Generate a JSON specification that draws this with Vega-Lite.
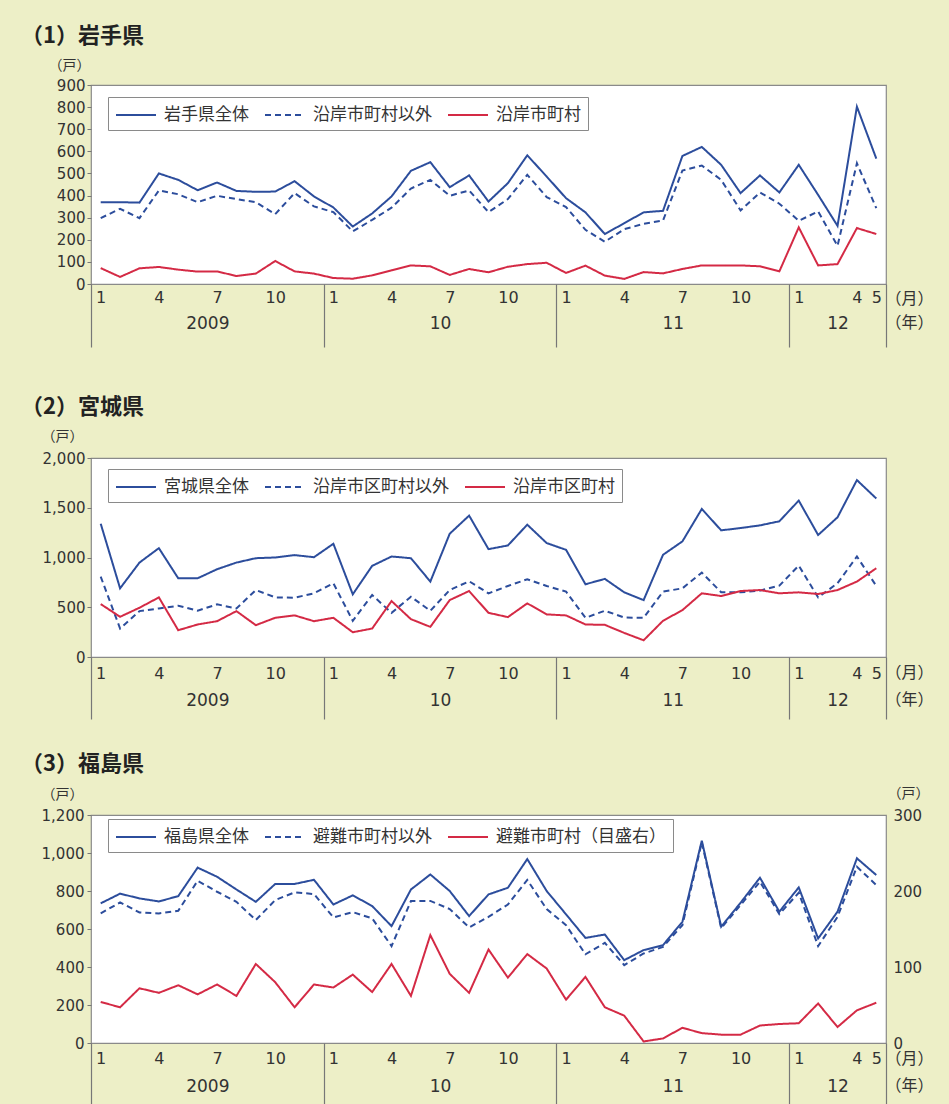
{
  "$schema": "https://vega.github.io/schema/vega-lite/v6.json",
  "background": "#EDEFC7",
  "padding": {"left": 20, "top": 24, "right": 17, "bottom": 0},
  "spacing": 31,
  "resolve": {
    "scale": {"x": "independent", "y": "independent", "color": "independent", "strokeDash": "independent"},
    "axis": {"x": "independent", "y": "independent"},
    "legend": {"color": "independent", "strokeDash": "independent"}
  },
  "config": {
    "view": {"fill": "white", "stroke": "#8a8a8a", "strokeWidth": 1.2},
    "axis": {"labelFont": "DejaVu Sans", "labelColor": "#333333", "titleFont": "Noto Sans CJK JP", "titleColor": "#333333", "titleFontWeight": "normal", "grid": false, "domain": false, "tickColor": "#777777"},
    "title": {"font": "Noto Sans CJK JP", "fontWeight": "bold", "color": "#222222", "fontSize": 22, "anchor": "start", "frame": "group"},
    "legend": {"title": null, "orient": "none", "direction": "horizontal", "fillColor": "white", "strokeColor": "#8a8a8a", "padding": 7, "symbolType": "M-1,0L3,0", "symbolSize": 400, "symbolStrokeWidth": 2, "labelFontSize": 17, "labelFont": "Noto Sans CJK JP", "labelColor": "#333333", "labelOffset": 27, "columnPadding": 12, "labelLimit": 0}
  },
  "datasets": {
    "iwate": [
      {"i":0,"total":370,"excl":298,"area":72},{"i":1,"total":370,"excl":340,"area":32},{"i":2,"total":368,"excl":298,"area":71},{"i":3,"total":500,"excl":423,"area":77},{"i":4,"total":471,"excl":406,"area":65},{"i":5,"total":424,"excl":370,"area":56},{"i":6,"total":459,"excl":399,"area":57},{"i":7,"total":421,"excl":384,"area":36},{"i":8,"total":417,"excl":370,"area":47},{"i":9,"total":418,"excl":316,"area":104},{"i":10,"total":465,"excl":411,"area":57},{"i":11,"total":396,"excl":351,"area":47},
      {"i":12,"total":346,"excl":325,"area":27},{"i":13,"total":260,"excl":238,"area":24},{"i":14,"total":319,"excl":290,"area":39},{"i":15,"total":396,"excl":345,"area":62},{"i":16,"total":512,"excl":432,"area":84},{"i":17,"total":551,"excl":471,"area":80},{"i":18,"total":438,"excl":399,"area":41},{"i":19,"total":491,"excl":423,"area":68},{"i":20,"total":373,"excl":325,"area":53},{"i":21,"total":456,"excl":384,"area":78},{"i":22,"total":582,"excl":494,"area":90},{"i":23,"total":486,"excl":393,"area":96},
      {"i":24,"total":388,"excl":348,"area":50},{"i":25,"total":324,"excl":245,"area":83},{"i":26,"total":226,"excl":191,"area":38},{"i":27,"total":275,"excl":248,"area":23},{"i":28,"total":324,"excl":272,"area":54},{"i":29,"total":331,"excl":287,"area":48},{"i":30,"total":579,"excl":513,"area":68},{"i":31,"total":620,"excl":536,"area":84},{"i":32,"total":539,"excl":471,"area":84},{"i":33,"total":411,"excl":333,"area":84},{"i":34,"total":491,"excl":414,"area":80},{"i":35,"total":414,"excl":363,"area":57},
      {"i":36,"total":539,"excl":286,"area":256},{"i":37,"total":403,"excl":328,"area":84},{"i":38,"total":263,"excl":173,"area":90},{"i":39,"total":802,"excl":546,"area":253},{"i":40,"total":567,"excl":343,"area":226}
    ],
    "miyagi": [
      {"i":0,"total":1340,"excl":808,"area":532},{"i":1,"total":690,"excl":286,"area":404},{"i":2,"total":949,"excl":461,"area":495},{"i":3,"total":1094,"excl":488,"area":599},{"i":4,"total":791,"excl":515,"area":269},{"i":5,"total":791,"excl":465,"area":327},{"i":6,"total":882,"excl":529,"area":360},{"i":7,"total":949,"excl":488,"area":461},{"i":8,"total":993,"excl":673,"area":320},{"i":9,"total":1000,"excl":599,"area":394},{"i":10,"total":1024,"excl":596,"area":418},{"i":11,"total":1003,"excl":640,"area":360},
      {"i":12,"total":1138,"excl":741,"area":394},{"i":13,"total":630,"excl":364,"area":249},{"i":14,"total":916,"excl":623,"area":286},{"i":15,"total":1010,"excl":444,"area":562},{"i":16,"total":993,"excl":606,"area":380},{"i":17,"total":758,"excl":465,"area":303},{"i":18,"total":1239,"excl":673,"area":572},{"i":19,"total":1421,"excl":761,"area":663},{"i":20,"total":1084,"excl":640,"area":444},{"i":21,"total":1121,"excl":714,"area":401},{"i":22,"total":1330,"excl":781,"area":539},{"i":23,"total":1145,"excl":714,"area":428},
      {"i":24,"total":1077,"excl":657,"area":418},{"i":25,"total":731,"excl":394,"area":327},{"i":26,"total":785,"excl":465,"area":323},{"i":27,"total":650,"excl":397,"area":242},{"i":28,"total":572,"excl":394,"area":168},{"i":29,"total":1027,"excl":657,"area":364},{"i":30,"total":1162,"excl":690,"area":471},{"i":31,"total":1488,"excl":848,"area":640},{"i":32,"total":1273,"excl":650,"area":613},{"i":33,"total":1296,"excl":650,"area":663},{"i":34,"total":1323,"excl":667,"area":673},{"i":35,"total":1364,"excl":717,"area":640},
      {"i":36,"total":1572,"excl":919,"area":650},{"i":37,"total":1226,"excl":599,"area":633},{"i":38,"total":1404,"excl":741,"area":673},{"i":39,"total":1778,"excl":1010,"area":758},{"i":40,"total":1593,"excl":714,"area":892}
    ],
    "fukushima": [
      {"i":0,"total":735,"excl":682,"area":54},{"i":1,"total":786,"excl":740,"area":47},{"i":2,"total":761,"excl":687,"area":72},{"i":3,"total":745,"excl":682,"area":66},{"i":4,"total":773,"excl":696,"area":76},{"i":5,"total":923,"excl":854,"area":64},{"i":6,"total":875,"excl":796,"area":77},{"i":7,"total":808,"excl":743,"area":62},{"i":8,"total":743,"excl":647,"area":104},{"i":9,"total":837,"excl":752,"area":80},{"i":10,"total":837,"excl":793,"area":47},{"i":11,"total":859,"excl":784,"area":77},
      {"i":12,"total":729,"excl":661,"area":73},{"i":13,"total":777,"excl":689,"area":90},{"i":14,"total":721,"excl":656,"area":67},{"i":15,"total":615,"excl":510,"area":104},{"i":16,"total":808,"excl":747,"area":62},{"i":17,"total":887,"excl":748,"area":142},{"i":18,"total":800,"excl":705,"area":91},{"i":19,"total":668,"excl":608,"area":66},{"i":20,"total":782,"excl":664,"area":123},{"i":21,"total":817,"excl":729,"area":86},{"i":22,"total":968,"excl":858,"area":117},{"i":23,"total":800,"excl":705,"area":98},
      {"i":24,"total":677,"excl":620,"area":57},{"i":25,"total":553,"excl":467,"area":87},{"i":26,"total":571,"excl":527,"area":47},{"i":27,"total":436,"excl":410,"area":36},{"i":28,"total":489,"excl":471,"area":2},{"i":29,"total":515,"excl":506,"area":6},{"i":30,"total":638,"excl":620,"area":20},{"i":31,"total":1065,"excl":1056,"area":13},{"i":32,"total":612,"excl":605,"area":11},{"i":33,"total":738,"excl":726,"area":11},{"i":34,"total":870,"excl":849,"area":23},{"i":35,"total":691,"excl":678,"area":25},
      {"i":36,"total":819,"excl":791,"area":26},{"i":37,"total":550,"excl":510,"area":52},{"i":38,"total":691,"excl":664,"area":21},{"i":39,"total":972,"excl":928,"area":43},{"i":40,"total":884,"excl":831,"area":53}
    ]
  },
  "vconcat": [
    {
      "title": {"text": "（1）岩手県", "dx": -70, "offset": 10},
      "width": 795, "height": 199,
      "data": {"name": "iwate"},
      "resolve": {"axis": {"x": "independent"}, "scale": {"y": "independent"}},
      "layer": [
        {"mark": {"type": "line", "strokeWidth": 2},
         "encoding": {
           "x": {"field": "i", "type": "quantitative", "scale": {"domain": [-0.5, 40.5], "nice": false, "zero": false},
                 "axis": {"orient": "bottom", "values": [0,3,6,9,12,15,18,21,24,27,30,33,36,39,40], "labelExpr": "(datum.value % 12) + 1", "ticks": false, "labelPadding": 5, "labelFontSize": 16, "labelFlush": false, "labelOverlap": false, "title": "（月）", "titleFontSize": 16, "titleAngle": 0, "titleX": 818, "titleY": 14, "titleAlign": "center", "titleBaseline": "middle"}},
           "y": {"field": "total", "type": "quantitative", "scale": {"domain": [0, 900], "nice": false},
                 "axis": {"orient": "left", "values": [0,100,200,300,400,500,600,700,800,900], "tickSize": 4, "labelPadding": 2, "labelFontSize": 15, "title": "（戸）", "titleFontSize": 14, "titleAngle": 0, "titleX": -22, "titleY": -20, "titleAlign": "center", "titleBaseline": "middle"}},
           "color": {"datum": "岩手県全体", "type": "nominal", "scale": {"domain": ["岩手県全体", "沿岸市町村以外", "沿岸市町村"], "range": ["#2c4d9c", "#2c4d9c", "#d42a45"]}, "legend": {"legendX": 17, "legendY": 12}},
           "strokeDash": {"datum": "岩手県全体", "type": "nominal", "scale": {"domain": ["岩手県全体", "沿岸市町村以外", "沿岸市町村"], "range": [[1, 0], [6, 4], [1, 0]]}, "legend": {"legendX": 17, "legendY": 12}}
         }},
        {"mark": {"type": "line", "strokeWidth": 2},
         "encoding": {
           "x": {"field": "i", "type": "quantitative", "scale": {"domain": [-0.5, 40.5], "nice": false, "zero": false},
                 "axis": {"orient": "bottom", "values": [5.5, 17.5, 29.5, 38], "labelExpr": "datum.value < 12 ? '2009' : datum.value < 24 ? '10' : datum.value < 36 ? '11' : '12'", "ticks": false, "labelPadding": 31, "labelFontSize": 17, "labelFlush": false, "labelOverlap": false, "title": "（年）", "titleFontSize": 16, "titleAngle": 0, "titleX": 818, "titleY": 38, "titleAlign": "center", "titleBaseline": "middle"}},
           "y": {"field": "excl", "type": "quantitative", "scale": {"domain": [0, 900], "nice": false}, "axis": null},
           "color": {"datum": "沿岸市町村以外", "type": "nominal", "legend": {"legendX": 17, "legendY": 12}},
           "strokeDash": {"datum": "沿岸市町村以外", "type": "nominal", "legend": {"legendX": 17, "legendY": 12}}
         }},
        {"mark": {"type": "line", "strokeWidth": 2},
         "encoding": {
           "x": {"field": "i", "type": "quantitative", "scale": {"domain": [-0.5, 40.5], "nice": false, "zero": false},
                 "axis": {"orient": "bottom", "values": [-0.5, 11.5, 23.5, 35.5, 40.5], "labels": false, "ticks": true, "tickSize": 63, "tickWidth": 1.2, "tickColor": "#777777", "title": null}},
           "y": {"field": "area", "type": "quantitative", "scale": {"domain": [0, 900], "nice": false}, "axis": null},
           "color": {"datum": "沿岸市町村", "type": "nominal", "legend": {"legendX": 17, "legendY": 12}},
           "strokeDash": {"datum": "沿岸市町村", "type": "nominal", "legend": {"legendX": 17, "legendY": 12}}
         }}
      ]
    },
    {
      "title": {"text": ["", "（2）宮城県"], "dx": -70, "offset": 10, "lineHeight": 15},
      "width": 795, "height": 199,
      "data": {"name": "miyagi"},
      "resolve": {"axis": {"x": "independent"}, "scale": {"y": "independent"}},
      "layer": [
        {"mark": {"type": "line", "strokeWidth": 2},
         "encoding": {
           "x": {"field": "i", "type": "quantitative", "scale": {"domain": [-0.5, 40.5], "nice": false, "zero": false},
                 "axis": {"orient": "bottom", "values": [0,3,6,9,12,15,18,21,24,27,30,33,36,39,40], "labelExpr": "(datum.value % 12) + 1", "ticks": false, "labelPadding": 8, "labelFontSize": 16, "labelFlush": false, "labelOverlap": false, "title": "（月）", "titleFontSize": 16, "titleAngle": 0, "titleX": 818, "titleY": 15, "titleAlign": "center", "titleBaseline": "middle"}},
           "y": {"field": "total", "type": "quantitative", "scale": {"domain": [0, 2000], "nice": false},
                 "axis": {"orient": "left", "values": [0,500,1000,1500,2000], "labelExpr": "format(datum.value, ',')", "tickSize": 4, "labelPadding": 2, "labelFontSize": 15, "title": "（戸）", "titleFontSize": 14, "titleAngle": 0, "titleX": -29, "titleY": -22, "titleAlign": "center", "titleBaseline": "middle"}},
           "color": {"datum": "宮城県全体", "type": "nominal", "scale": {"domain": ["宮城県全体", "沿岸市区町村以外", "沿岸市区町村"], "range": ["#2c4d9c", "#2c4d9c", "#d42a45"]}, "legend": {"legendX": 17, "legendY": 11}},
           "strokeDash": {"datum": "宮城県全体", "type": "nominal", "scale": {"domain": ["宮城県全体", "沿岸市区町村以外", "沿岸市区町村"], "range": [[1, 0], [6, 4], [1, 0]]}, "legend": {"legendX": 17, "legendY": 11}}
         }},
        {"mark": {"type": "line", "strokeWidth": 2},
         "encoding": {
           "x": {"field": "i", "type": "quantitative", "scale": {"domain": [-0.5, 40.5], "nice": false, "zero": false},
                 "axis": {"orient": "bottom", "values": [5.5, 17.5, 29.5, 38], "labelExpr": "datum.value < 12 ? '2009' : datum.value < 24 ? '10' : datum.value < 36 ? '11' : '12'", "ticks": false, "labelPadding": 35, "labelFontSize": 17, "labelFlush": false, "labelOverlap": false, "title": "（年）", "titleFontSize": 16, "titleAngle": 0, "titleX": 818, "titleY": 42, "titleAlign": "center", "titleBaseline": "middle"}},
           "y": {"field": "excl", "type": "quantitative", "scale": {"domain": [0, 2000], "nice": false}, "axis": null},
           "color": {"datum": "沿岸市区町村以外", "type": "nominal", "legend": {"legendX": 17, "legendY": 11}},
           "strokeDash": {"datum": "沿岸市区町村以外", "type": "nominal", "legend": {"legendX": 17, "legendY": 11}}
         }},
        {"mark": {"type": "line", "strokeWidth": 2},
         "encoding": {
           "x": {"field": "i", "type": "quantitative", "scale": {"domain": [-0.5, 40.5], "nice": false, "zero": false},
                 "axis": {"orient": "bottom", "values": [-0.5, 11.5, 23.5, 35.5, 40.5], "labels": false, "ticks": true, "tickSize": 62, "tickWidth": 1.2, "tickColor": "#777777", "title": null}},
           "y": {"field": "area", "type": "quantitative", "scale": {"domain": [0, 2000], "nice": false}, "axis": null},
           "color": {"datum": "沿岸市区町村", "type": "nominal", "legend": {"legendX": 17, "legendY": 11}},
           "strokeDash": {"datum": "沿岸市区町村", "type": "nominal", "legend": {"legendX": 17, "legendY": 11}}
         }}
      ]
    },
    {
      "title": {"text": "（3）福島県", "dx": -70, "offset": 10},
      "width": 795, "height": 228,
      "data": {"name": "fukushima"},
      "resolve": {"axis": {"x": "independent"}, "scale": {"y": "independent"}},
      "layer": [
        {"mark": {"type": "line", "strokeWidth": 2},
         "encoding": {
           "x": {"field": "i", "type": "quantitative", "scale": {"domain": [-0.5, 40.5], "nice": false, "zero": false},
                 "axis": {"orient": "bottom", "values": [0,3,6,9,12,15,18,21,24,27,30,33,36,39,40], "labelExpr": "(datum.value % 12) + 1", "ticks": false, "labelPadding": 7, "labelFontSize": 16, "labelFlush": false, "labelOverlap": false, "title": "（月）", "titleFontSize": 16, "titleAngle": 0, "titleX": 818, "titleY": 15, "titleAlign": "center", "titleBaseline": "middle"}},
           "y": {"field": "total", "type": "quantitative", "scale": {"domain": [0, 1200], "nice": false},
                 "axis": {"orient": "left", "values": [0,200,400,600,800,1000,1200], "labelExpr": "format(datum.value, ',')", "tickSize": 4, "labelPadding": 3, "labelFontSize": 15, "title": "（戸）", "titleFontSize": 14, "titleAngle": 0, "titleX": -29, "titleY": -21, "titleAlign": "center", "titleBaseline": "middle"}},
           "color": {"datum": "福島県全体", "type": "nominal", "scale": {"domain": ["福島県全体", "避難市町村以外", "避難市町村（目盛右）"], "range": ["#2c4d9c", "#2c4d9c", "#d42a45"]}, "legend": {"legendX": 17, "legendY": 4}},
           "strokeDash": {"datum": "福島県全体", "type": "nominal", "scale": {"domain": ["福島県全体", "避難市町村以外", "避難市町村（目盛右）"], "range": [[1, 0], [6, 4], [1, 0]]}, "legend": {"legendX": 17, "legendY": 4}}
         }},
        {"mark": {"type": "line", "strokeWidth": 2},
         "encoding": {
           "x": {"field": "i", "type": "quantitative", "scale": {"domain": [-0.5, 40.5], "nice": false, "zero": false},
                 "axis": {"orient": "bottom", "values": [5.5, 17.5, 29.5, 38], "labelExpr": "datum.value < 12 ? '2009' : datum.value < 24 ? '10' : datum.value < 36 ? '11' : '12'", "ticks": false, "labelPadding": 35, "labelFontSize": 17, "labelFlush": false, "labelOverlap": false, "title": "（年）", "titleFontSize": 16, "titleAngle": 0, "titleX": 818, "titleY": 42, "titleAlign": "center", "titleBaseline": "middle"}},
           "y": {"field": "excl", "type": "quantitative", "scale": {"domain": [0, 1200], "nice": false}, "axis": null},
           "color": {"datum": "避難市町村以外", "type": "nominal", "legend": {"legendX": 17, "legendY": 4}},
           "strokeDash": {"datum": "避難市町村以外", "type": "nominal", "legend": {"legendX": 17, "legendY": 4}}
         }},
        {"mark": {"type": "line", "strokeWidth": 2},
         "encoding": {
           "x": {"field": "i", "type": "quantitative", "scale": {"domain": [-0.5, 40.5], "nice": false, "zero": false},
                 "axis": {"orient": "bottom", "values": [-0.5, 11.5, 23.5, 35.5, 40.5], "labels": false, "ticks": true, "tickSize": 62, "tickWidth": 1.2, "tickColor": "#777777", "title": null}},
           "y": {"field": "area", "type": "quantitative", "scale": {"domain": [0, 300], "nice": false},
                 "axis": {"orient": "right", "values": [0,100,200,300], "ticks": false, "labelPadding": 7, "labelFontSize": 15, "title": "（戸）", "titleFontSize": 14, "titleAngle": 0, "titleX": 22, "titleY": -22, "titleAlign": "center", "titleBaseline": "middle"}},
           "color": {"datum": "避難市町村（目盛右）", "type": "nominal", "legend": {"legendX": 17, "legendY": 4}},
           "strokeDash": {"datum": "避難市町村（目盛右）", "type": "nominal", "legend": {"legendX": 17, "legendY": 4}}
         }}
      ]
    }
  ]
}
